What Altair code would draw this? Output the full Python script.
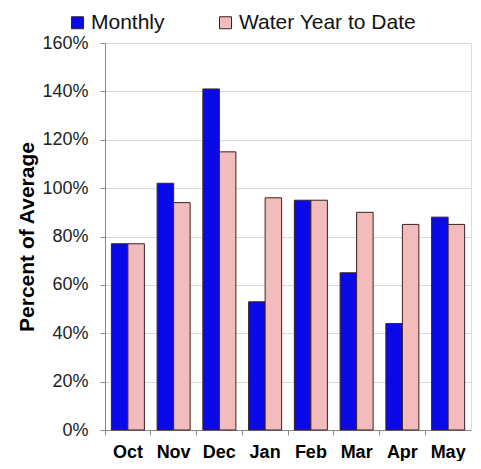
import altair as alt
import pandas as pd

months = ["Oct", "Nov", "Dec", "Jan", "Feb", "Mar", "Apr", "May"]
monthly = [77, 102, 141, 53, 95, 65, 44, 88]
wytd = [77, 94, 115, 96, 95, 90, 85, 85]
series = ["Monthly", "Water Year to Date"]
y_ticks = [0, 20, 40, 60, 80, 100, 120, 140, 160]

rows = []
for m, a, b in zip(months, monthly, wytd):
    rows.append({"month": m, "series": series[0], "value": a})
    rows.append({"month": m, "series": series[1], "value": b})
df = pd.DataFrame(rows)

font = "Liberation Sans"

chart = alt.Chart(df).mark_bar(stroke="#3a2020", strokeWidth=1).encode(
    x=alt.X("month:N", sort=months, title=None,
            scale=alt.Scale(paddingInner=0, paddingOuter=0),
            axis=alt.Axis(labelAngle=0, labelFont=font, labelFontSize=18,
                          labelFontWeight="bold", labelColor="#000",
                          labelPadding=8, bandPosition=0, ticks=True,
                          tickSize=5, tickColor="#888", domainColor="#888",
                          grid=False)),
    xOffset=alt.XOffset("series:N", sort=series,
                        scale=alt.Scale(paddingInner=0, paddingOuter=0.386)),
    y=alt.Y("value:Q", title="Percent of Average",
            scale=alt.Scale(domain=[0, 160], nice=False),
            axis=alt.Axis(values=y_ticks, labelExpr="datum.value + '%'",
                          labelFont=font, labelFontSize=18, labelColor="#222",
                          titleFont=font, titleFontSize=21, titleFontWeight="bold",
                          titleColor="#000", titlePadding=4,
                          tickSize=5, tickColor="#888", domainColor="#888",
                          gridColor="#d8d8d8", labelPadding=12)),
    fill=alt.Fill("series:N", sort=series,
                  scale=alt.Scale(domain=series, range=["#0a0ae8", "#f2bcbc"]),
                  legend=alt.Legend(title=None, orient="none", direction="horizontal",
                                    legendX=-38, legendY=-31, padding=0,
                                    labelFont=font, labelFontSize=21, labelColor="#111",
                                    symbolType="square", symbolSize=144,
                                    symbolStrokeColor="#3a2020", symbolStrokeWidth=1,
                                    labelOffset=3, columnPadding=50, labelLimit=300)),
).properties(
    width=366, height=387,
    autosize=alt.AutoSizeParams(type="none"),
    padding={"left": 97, "top": 35, "right": 2, "bottom": 31},
).configure_view(
    stroke="#c8c8c8", strokeWidth=1
).configure(background="white")

chart.save("out.html", embed_options={"renderer": "svg", "actions": False})
